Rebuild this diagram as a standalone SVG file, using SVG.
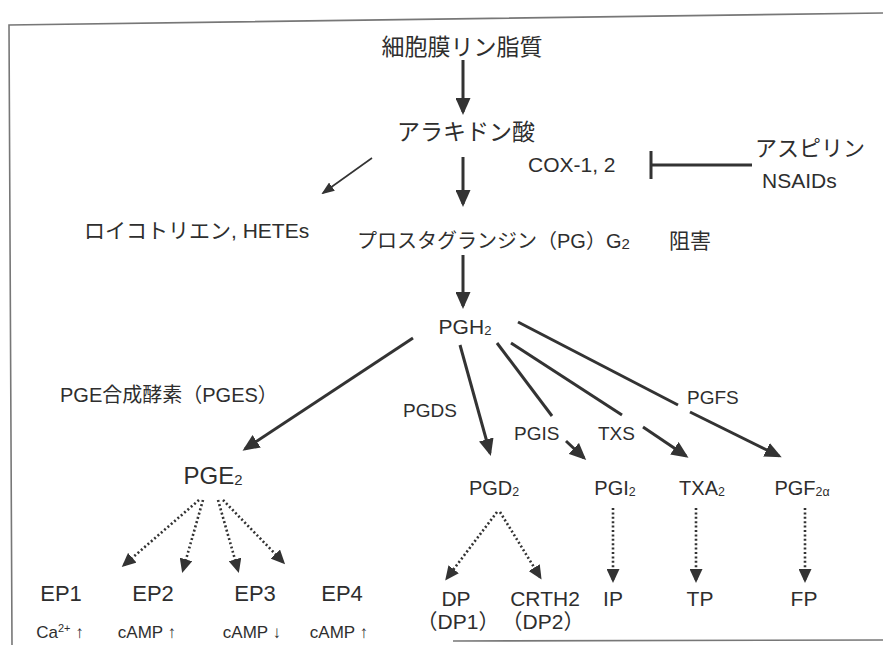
<svg xmlns="http://www.w3.org/2000/svg" width="883" height="645" viewBox="0 0 883 645">
<defs>
<style>
text{font-family:"Liberation Sans","Noto Sans CJK JP",sans-serif;fill:#2e2e2e}
.c{text-anchor:middle}
.thick{stroke:#333;stroke-width:3;fill:none}
.thin{stroke:#333;stroke-width:1.6;fill:none}
.dot{stroke:#333;stroke-width:2.6;fill:none;stroke-dasharray:2 2.4}
.frame{stroke:#777;stroke-width:1.6;fill:none}
.sub{font-size:62%}
</style>
<marker id="ah" markerUnits="userSpaceOnUse" markerWidth="17" markerHeight="15" refX="14" refY="7.5" orient="auto"><path d="M0,0 L17,7.5 L0,15 z" fill="#333"/></marker>
<marker id="ahs" markerUnits="userSpaceOnUse" markerWidth="13" markerHeight="10" refX="11" refY="5" orient="auto"><path d="M0,0 L13,5 L0,10 z" fill="#333"/></marker>
<marker id="ahd" markerUnits="userSpaceOnUse" markerWidth="14" markerHeight="13" refX="11" refY="6.5" orient="auto"><path d="M0,0 L14,6.5 L0,13 z" fill="#333"/></marker>
</defs>
<rect width="883" height="645" fill="#fff"/>
<polyline class="frame" points="883,13 9,25 12,645"/>
<line class="frame" x1="453" y1="641" x2="883" y2="640"/>

<g id="connectors">
<line class="thick" x1="463" y1="60" x2="463" y2="112" marker-end="url(#ah)"/>
<line class="thick" x1="463" y1="157" x2="463" y2="204" marker-end="url(#ah)"/>
<line class="thin" x1="372" y1="158" x2="323" y2="193" marker-end="url(#ahs)"/>
<line class="thick" x1="463" y1="255" x2="463" y2="306" marker-end="url(#ah)"/>
<g id="inhibit">
<line class="thick" x1="651" y1="151" x2="651" y2="179"/>
<line class="thick" x1="651" y1="165" x2="752" y2="165"/>
</g>
<line class="thick" x1="413" y1="338" x2="245" y2="449" marker-end="url(#ah)"/>
<line class="thick" x1="460" y1="345" x2="490" y2="453" marker-end="url(#ah)"/>
<line class="thick" x1="497" y1="343" x2="552" y2="416"/>
<line class="thick" x1="566" y1="441" x2="584" y2="458" marker-end="url(#ah)"/>
<line class="thick" x1="511" y1="343" x2="622" y2="415"/>
<line class="thick" x1="643" y1="427" x2="686" y2="456" marker-end="url(#ah)"/>
<line class="thick" x1="518" y1="322" x2="678" y2="405"/>
<line class="thick" x1="690" y1="412" x2="779" y2="456" marker-end="url(#ah)"/>
<line class="dot" x1="199" y1="500" x2="124" y2="565" marker-end="url(#ahd)"/>
<line class="dot" x1="203" y1="500" x2="183" y2="570" marker-end="url(#ahd)"/>
<line class="dot" x1="218" y1="500" x2="238" y2="570" marker-end="url(#ahd)"/>
<line class="dot" x1="223" y1="500" x2="283" y2="562" marker-end="url(#ahd)"/>
<line class="dot" x1="497" y1="512" x2="447" y2="578" marker-end="url(#ahd)"/>
<line class="dot" x1="500" y1="512" x2="540" y2="577" marker-end="url(#ahd)"/>
<line class="dot" x1="613" y1="508" x2="613" y2="580" marker-end="url(#ahd)"/>
<line class="dot" x1="696" y1="508" x2="696" y2="580" marker-end="url(#ahd)"/>
<line class="dot" x1="805" y1="508" x2="805" y2="580" marker-end="url(#ahd)"/>
</g>

<g id="membrane"><text class="c" x="462" y="55" font-size="23">細胞膜リン脂質</text></g>
<g id="arachidonic"><text class="c" x="466" y="140" font-size="23">アラキドン酸</text></g>
<g id="cox"><text x="528" y="172" font-size="21">COX-1, 2</text></g>
<g id="aspirin"><text x="755" y="156" font-size="22">アスピリン</text><text x="762" y="188" font-size="21">NSAIDs</text></g>
<g id="leuko"><text x="84" y="238" font-size="21">ロイコトリエン, HETEs</text></g>
<g id="pgg2"><text x="357" y="248" font-size="20">プロスタグランジン（PG）G<tspan font-size="15" dy="1">2</tspan></text></g>
<g id="inhibition"><text x="669" y="248" font-size="21">阻害</text></g>
<g id="pgh2"><text class="c" x="465" y="334" font-size="21">PGH<tspan class="sub" dy="1">2</tspan></text></g>
<g id="pges"><text x="60" y="402" font-size="20">PGE合成酵素（PGES）</text></g>
<g id="pgds"><text x="403" y="417" font-size="19">PGDS</text></g>
<g id="pgis"><text x="514" y="440" font-size="19">PGIS</text></g>
<g id="txs"><text x="598" y="440" font-size="19">TXS</text></g>
<g id="pgfs"><text x="687" y="404" font-size="19">PGFS</text></g>
<g id="pge2"><text class="c" x="213" y="484" font-size="24">PGE<tspan class="sub" dy="1">2</tspan></text></g>
<g id="pgd2"><text class="c" x="494" y="495" font-size="20">PGD<tspan class="sub" dy="1">2</tspan></text></g>
<g id="pgi2"><text class="c" x="615" y="495" font-size="20">PGI<tspan class="sub" dy="1">2</tspan></text></g>
<g id="txa2"><text class="c" x="702" y="495" font-size="20">TXA<tspan class="sub" dy="1">2</tspan></text></g>
<g id="pgf2a"><text class="c" x="802" y="495" font-size="20">PGF<tspan class="sub" dy="1">2α</tspan></text></g>
<g id="ep1"><text class="c" x="61" y="601" font-size="22">EP1</text><text class="c" x="60" y="638" font-size="17">Ca<tspan font-size="11" dy="-6">2+</tspan><tspan dy="6"> ↑</tspan></text></g>
<g id="ep2"><text class="c" x="153" y="601" font-size="22">EP2</text><text class="c" x="147" y="638" font-size="17">cAMP ↑</text></g>
<g id="ep3"><text class="c" x="255" y="601" font-size="22">EP3</text><text class="c" x="252" y="638" font-size="17">cAMP ↓</text></g>
<g id="ep4"><text class="c" x="342" y="601" font-size="22">EP4</text><text class="c" x="339" y="638" font-size="17">cAMP ↑</text></g>
<g id="dp"><text class="c" x="456" y="606" font-size="21">DP</text><text class="c" x="458" y="629" font-size="21">（DP1）</text></g>
<g id="crth2"><text class="c" x="545" y="606" font-size="21">CRTH2</text><text class="c" x="543" y="629" font-size="21">（DP2）</text></g>
<g id="ip"><text class="c" x="613" y="606" font-size="21">IP</text></g>
<g id="tp"><text class="c" x="700" y="606" font-size="21">TP</text></g>
<g id="fp"><text class="c" x="804" y="606" font-size="21">FP</text></g>
</svg>
